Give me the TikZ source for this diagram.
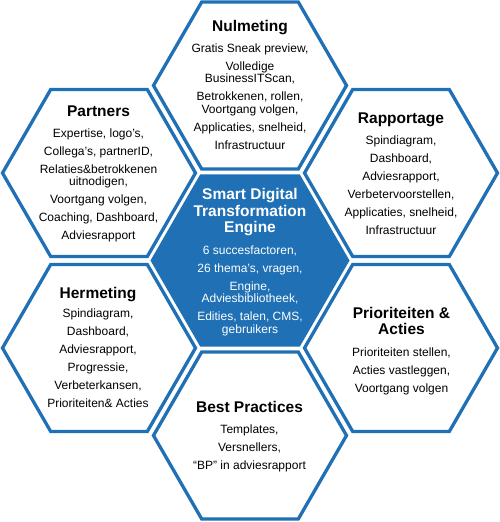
\documentclass[tikz,border=0pt]{standalone}
\usepackage{fontspec}
\setmainfont{Liberation Sans}
\usetikzlibrary{shapes.geometric}
\definecolor{hexblue}{RGB}{31,112,181}
\newcommand\ttlfont{\fontsize{15.5}{16.5}\selectfont\bfseries}
\newcommand\bdyfont{\fontsize{12}{12.5}\selectfont}
\begin{document}
\begin{tikzpicture}[x=1pt,y=-1pt,
  hexo/.style={regular polygon, regular polygon sides=6, minimum size=193pt, inner sep=0pt, outer sep=0pt, draw=hexblue, line width=3.3pt, fill=white},
  hexc/.style={regular polygon, regular polygon sides=6, minimum size=199pt, inner sep=0pt, outer sep=0pt, fill=hexblue},
  ttl/.style={font=\ttlfont, align=center, inner sep=0pt, anchor=north},
  bdy/.style={font=\bdyfont, align=center, inner sep=0pt, anchor=north},
]
\useasboundingbox (0,0) rectangle (500,522);
% hexagons
\node[hexc] (hC) at (250,260.5) {};
\node[hexo] (hN) at (250,85.5) {};
\node[hexo] (hP) at (99,173) {};
\node[hexo] (hR) at (401,173) {};
\node[hexo] (hH) at (99,348) {};
\node[hexo] (hA) at (401,348) {};
\node[hexo] (hB) at (250,435.5) {};
% Nulmeting
\node[ttl] (tN) at (250,20.2) {Nulmeting};
\node[bdy] (bN) at (250,43.2) {Gratis Sneak preview,\\[5.5pt] Volledige\\ BusinessITScan,\\[5.5pt] Betrokkenen, rollen,\\ Voortgang volgen,\\[5.5pt] Applicaties, snelheid,\\[5.5pt] Infrastructuur};
% Partners
\node[ttl] (tP) at (98.5,105.2) {Partners};
\node[bdy] (bP) at (98.5,128.2) {Expertise, logo’s,\\[5.5pt] Collega’s, partnerID,\\[5.5pt] Relaties\&betrokkenen\\ uitnodigen,\\[5.5pt] Voortgang volgen,\\[5.5pt] Coaching, Dashboard,\\[5.5pt] Adviesrapport};
% Rapportage
\node[ttl] (tR) at (401,112.5) {Rapportage};
\node[bdy] (bR) at (401,135.5) {Spindiagram,\\[5.5pt] Dashboard,\\[5.5pt] Adviesrapport,\\[5.5pt] Verbetervoorstellen,\\[5.5pt] Applicaties, snelheid,\\[5.5pt] Infrastructuur};
% Center
\node[ttl, text=white] (tC) at (250,188.2) {Smart Digital\\Transformation\\Engine};
\node[bdy, text=white] (bC) at (250,245.5) {6 succesfactoren,\\[5.5pt] 26 thema’s, vragen,\\[5.5pt] Engine,\\ Adviesbibliotheek,\\[5.5pt] Edities, talen, CMS,\\ gebruikers};
% Hermeting
\node[ttl] (tH) at (98,286.9) {Hermeting};
\node[bdy] (bH) at (98,308.8) {Spindiagram,\\[5.5pt] Dashboard,\\[5.5pt] Adviesrapport,\\[5.5pt] Progressie,\\[5.5pt] Verbeterkansen,\\[5.5pt] Prioriteiten\& Acties};
% Prioriteiten & Acties
\node[ttl] (tA) at (401.5,306.9) {Prioriteiten \&\\Acties};
\node[bdy] (bA) at (401.5,347.2) {Prioriteiten stellen,\\[5.5pt] Acties vastleggen,\\[5.5pt] Voortgang volgen};
% Best Practices
\node[ttl] (tB) at (249.5,400.9) {Best Practices};
\node[bdy] (bB) at (249.5,424.8) {Templates,\\[5.5pt] Versnellers,\\[5.5pt] “BP” in adviesrapport};
\end{tikzpicture}
\end{document}
